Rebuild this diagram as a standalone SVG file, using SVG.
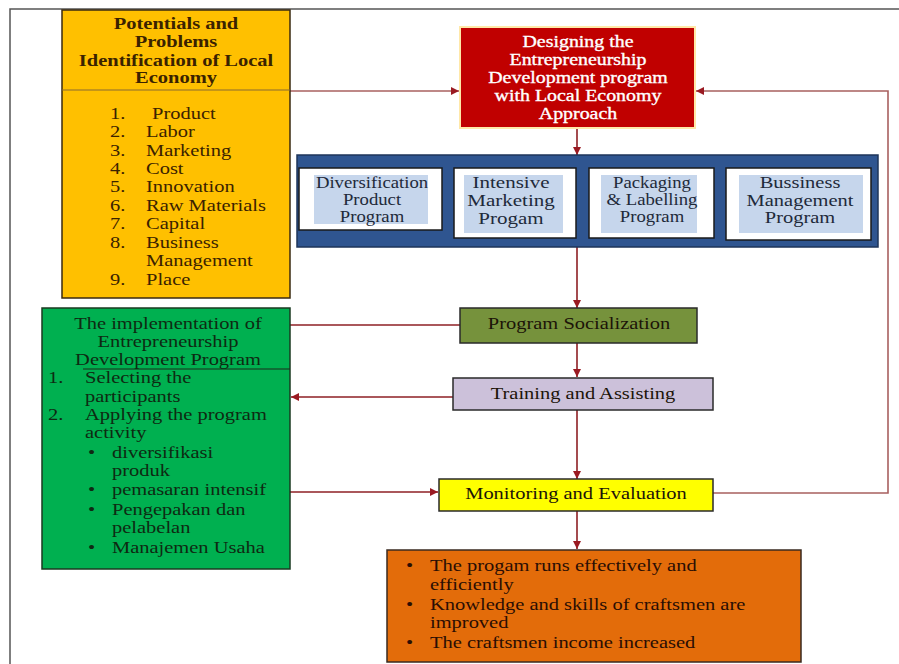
<svg xmlns="http://www.w3.org/2000/svg" width="899" height="664" viewBox="0 0 899 664">
<style>
  text { font-family: "Liberation Serif", "Times New Roman", serif; font-size: 17.5px; fill: #1c1408; }
  .c { text-anchor: middle; }
  .hb { font-weight: bold; fill: #3a2200; }
  .yl { fill: #3a2200; }
  .rd { fill: #ffffff; stroke: #ffffff; stroke-width: 0.35; font-size: 17px; }
  .bx { fill: #1e2a3a; }
  .s16 { font-size: 16px; }
  .s18 { font-size: 17.5px; }
  .gr { fill: #0e2a12; }
  .or { fill: #2a0e04; }
  .ln { fill: none; stroke: #8e1f24; stroke-width: 1.6; }
  .lnl { fill: none; stroke: #a8605f; stroke-width: 1.6; }
</style>
<defs>
  <marker id="ah" markerUnits="userSpaceOnUse" markerWidth="9" markerHeight="9" refX="8" refY="4.5" orient="auto">
    <path d="M0,0.5 L8,4.5 L0,8.5 z" fill="#9a1a22"/>
  </marker>
</defs>
<rect width="899" height="664" fill="#ffffff"/>
<rect x="10" y="9" width="900" height="670" fill="none" stroke="#555555" stroke-width="1.5"/>

<g id="connectors">
  <line class="lnl" x1="290" y1="91" x2="459" y2="91" marker-end="url(#ah)"/>
  <polyline class="lnl" points="713,493 888,493 888,91 696,91" marker-end="url(#ah)"/>
  <line class="ln" x1="577" y1="128" x2="577" y2="155" marker-end="url(#ah)"/>
  <line class="ln" x1="577" y1="247" x2="577" y2="308" marker-end="url(#ah)"/>
  <line class="ln" x1="577" y1="343" x2="577" y2="377" marker-end="url(#ah)"/>
  <line class="ln" x1="577" y1="410" x2="577" y2="479" marker-end="url(#ah)"/>
  <line class="ln" x1="577" y1="511" x2="577" y2="549" marker-end="url(#ah)"/>
  <line class="ln" x1="290" y1="325" x2="460" y2="325"/>
  <line class="ln" x1="453" y1="397" x2="291" y2="397" marker-end="url(#ah)"/>
  <line class="ln" x1="290" y1="492" x2="438" y2="492" marker-end="url(#ah)"/>
</g>

<g id="potentials">
  <rect x="62" y="10" width="228" height="288" fill="#FFC000" stroke="#3a2a10" stroke-width="1.5"/>
  <line x1="62" y1="90" x2="290" y2="90" stroke="#8a6a30" stroke-width="1"/>
  <text class="c hb" transform="translate(176,29) scale(1.17,1)">Potentials and</text>
  <text class="c hb" transform="translate(176,47) scale(1.17,1)">Problems</text>
  <text class="c hb" transform="translate(176,65.5) scale(1.17,1)">Identification of Local</text>
  <text class="c hb" transform="translate(176,83) scale(1.17,1)">Economy</text>
  <text class="yl" transform="translate(110,118.5) scale(1.17,1)">1.</text>
  <text class="yl" transform="translate(152,118.5) scale(1.17,1)">Product</text>
  <text class="yl" transform="translate(110,137) scale(1.17,1)">2.</text>
  <text class="yl" transform="translate(146,137) scale(1.17,1)">Labor</text>
  <text class="yl" transform="translate(110,155.5) scale(1.17,1)">3.</text>
  <text class="yl" transform="translate(146,155.5) scale(1.17,1)">Marketing</text>
  <text class="yl" transform="translate(110,174) scale(1.17,1)">4.</text>
  <text class="yl" transform="translate(146,174) scale(1.17,1)">Cost</text>
  <text class="yl" transform="translate(110,192) scale(1.17,1)">5.</text>
  <text class="yl" transform="translate(146,192) scale(1.17,1)">Innovation</text>
  <text class="yl" transform="translate(110,210.5) scale(1.17,1)">6.</text>
  <text class="yl" transform="translate(146,210.5) scale(1.17,1)">Raw Materials</text>
  <text class="yl" transform="translate(110,229) scale(1.17,1)">7.</text>
  <text class="yl" transform="translate(146,229) scale(1.17,1)">Capital</text>
  <text class="yl" transform="translate(110,247.5) scale(1.17,1)">8.</text>
  <text class="yl" transform="translate(146,247.5) scale(1.17,1)">Business</text>
  <text class="yl" transform="translate(146,266) scale(1.17,1)">Management</text>
  <text class="yl" transform="translate(110,284.5) scale(1.17,1)">9.</text>
  <text class="yl" transform="translate(146,284.5) scale(1.17,1)">Place</text>
</g>

<g id="designing">
  <rect x="460" y="27" width="235" height="101" fill="#C00000" stroke="#FFE8A8" stroke-width="2"/>
  <text class="c rd" transform="translate(578,47) scale(1.17,1)">Designing the</text>
  <text class="c rd" transform="translate(578,65) scale(1.17,1)">Entrepreneurship</text>
  <text class="c rd" transform="translate(578,83) scale(1.17,1)">Development program</text>
  <text class="c rd" transform="translate(578,101) scale(1.17,1)">with Local Economy</text>
  <text class="c rd" transform="translate(578,119) scale(1.17,1)">Approach</text>
</g>

<g id="programs">
  <rect x="297" y="155" width="581" height="92" fill="#2F5590" stroke="#1E3559" stroke-width="1.5"/>
  <g id="prog1">
    <rect x="299" y="168" width="143" height="62" fill="#ffffff" stroke="#1a1a1a" stroke-width="1.5"/>
    <rect x="314" y="175" width="114" height="49" fill="#C6D6EC"/>
    <text class="c bx s16" transform="translate(372,188) scale(1.17,1)">Diversification</text>
    <text class="c bx s16" transform="translate(372,205) scale(1.17,1)">Product</text>
    <text class="c bx s16" transform="translate(372,222) scale(1.17,1)">Program</text>
  </g>
  <g id="prog2">
    <rect x="454" y="168" width="122" height="70" fill="#ffffff" stroke="#1a1a1a" stroke-width="1.5"/>
    <rect x="464" y="175" width="99" height="58" fill="#C6D6EC"/>
    <text class="c bx s18" transform="translate(511,188) scale(1.2,1)">Intensive</text>
    <text class="c bx s18" transform="translate(511,206) scale(1.2,1)">Marketing</text>
    <text class="c bx s18" transform="translate(511,224) scale(1.2,1)">Progam</text>
  </g>
  <g id="prog3">
    <rect x="589" y="168" width="125" height="70" fill="#ffffff" stroke="#1a1a1a" stroke-width="1.5"/>
    <rect x="601" y="175" width="96" height="58" fill="#C6D6EC"/>
    <text class="c bx s16" transform="translate(652,188) scale(1.17,1)">Packaging</text>
    <text class="c bx s16" transform="translate(652,205) scale(1.17,1)">&amp; Labelling</text>
    <text class="c bx s16" transform="translate(652,222) scale(1.17,1)">Program</text>
  </g>
  <g id="prog4">
    <rect x="726" y="168" width="145" height="72" fill="#ffffff" stroke="#1a1a1a" stroke-width="1.5"/>
    <rect x="739" y="175" width="124" height="58" fill="#C6D6EC"/>
    <text class="c bx" transform="translate(800,188) scale(1.17,1)">Bussiness</text>
    <text class="c bx" transform="translate(800,205.5) scale(1.17,1)">Management</text>
    <text class="c bx" transform="translate(800,223) scale(1.17,1)">Program</text>
  </g>
</g>

<g id="implementation">
  <rect x="42" y="308" width="248" height="261" fill="#00B050" stroke="#1a3a20" stroke-width="1.5"/>
  <line x1="83" y1="369" x2="290" y2="369" stroke="#1a2a1a" stroke-width="1"/>
  <text class="c gr" transform="translate(168,329) scale(1.17,1)">The implementation of</text>
  <text class="c gr" transform="translate(168,347) scale(1.17,1)">Entrepreneurship</text>
  <text class="c gr" transform="translate(168,365) scale(1.17,1)">Development Program</text>
  <text class="gr" transform="translate(48,383) scale(1.17,1)">1.</text>
  <text class="gr" transform="translate(85,383) scale(1.17,1)">Selecting the</text>
  <text class="gr" transform="translate(85,401.5) scale(1.17,1)">participants</text>
  <text class="gr" transform="translate(48,419.5) scale(1.17,1)">2.</text>
  <text class="gr" transform="translate(85,419.5) scale(1.17,1)">Applying the program</text>
  <text class="gr" transform="translate(85,438) scale(1.17,1)">activity</text>
  <text class="gr" transform="translate(88,458) scale(1.17,1)">•</text>
  <text class="gr" transform="translate(112,458) scale(1.17,1)">diversifikasi</text>
  <text class="gr" transform="translate(112,476) scale(1.17,1)">produk</text>
  <text class="gr" transform="translate(88,495) scale(1.17,1)">•</text>
  <text class="gr" transform="translate(112,495) scale(1.17,1)">pemasaran intensif</text>
  <text class="gr" transform="translate(88,515) scale(1.17,1)">•</text>
  <text class="gr" transform="translate(112,515) scale(1.17,1)">Pengepakan dan</text>
  <text class="gr" transform="translate(112,533) scale(1.17,1)">pelabelan</text>
  <text class="gr" transform="translate(88,553) scale(1.17,1)">•</text>
  <text class="gr" transform="translate(112,553) scale(1.17,1)">Manajemen Usaha</text>
</g>

<g id="socialization">
  <rect x="460" y="308" width="237" height="35" fill="#76923C" stroke="#2a2a2a" stroke-width="1.5"/>
  <text class="c" transform="translate(579,329) scale(1.17,1)">Program Socialization</text>
</g>

<g id="training">
  <rect x="453" y="378" width="260" height="32" fill="#CCC1DA" stroke="#2a2a2a" stroke-width="1.5"/>
  <text class="c" transform="translate(583,399) scale(1.17,1)">Training and Assisting</text>
</g>

<g id="monitoring">
  <rect x="439" y="479" width="274" height="32" fill="#FFFF00" stroke="#2a2a2a" stroke-width="1.5"/>
  <text class="c" transform="translate(576,499) scale(1.17,1)">Monitoring and Evaluation</text>
</g>

<g id="outcomes">
  <rect x="387" y="550" width="414" height="112" fill="#E36C0A" stroke="#3a2a20" stroke-width="1.5"/>
  <text class="or" transform="translate(406,571) scale(1.17,1)">•</text>
  <text class="or" transform="translate(430,571) scale(1.17,1)">The progam runs effectively and</text>
  <text class="or" transform="translate(430,590) scale(1.17,1)">efficiently</text>
  <text class="or" transform="translate(406,610) scale(1.17,1)">•</text>
  <text class="or" transform="translate(430,610) scale(1.17,1)">Knowledge and skills of craftsmen are</text>
  <text class="or" transform="translate(430,628) scale(1.17,1)">improved</text>
  <text class="or" transform="translate(406,648) scale(1.17,1)">•</text>
  <text class="or" transform="translate(430,648) scale(1.17,1)">The craftsmen income increased</text>
</g>
</svg>
